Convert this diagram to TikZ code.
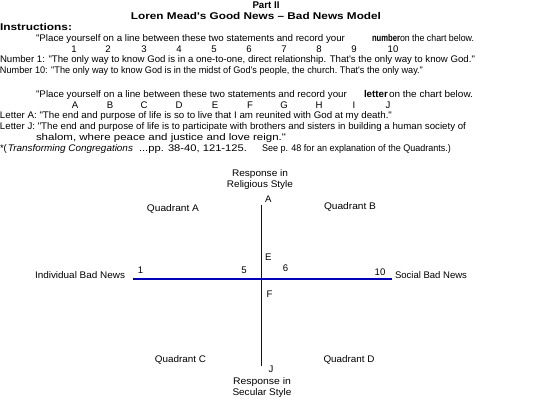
\documentclass[tikz,border=0pt]{standalone}
\usepackage{fontspec}
\newfontfamily\arialf{Liberation Sans}
\definecolor{axisblue}{RGB}{0,0,185}
\newcommand{\fitw}[2]{\resizebox{#1pt}{\height}{#2}}
\begin{document}
\begin{tikzpicture}[x=1pt,y=-1pt,
  every node/.style={inner sep=0pt, outer sep=0pt, font=\arialf\fontsize{9.6}{11}\selectfont},
  tl/.style={anchor=base west},
  tc/.style={anchor=base},
  hb/.style={font=\arialf\bfseries\fontsize{9.8}{11}\selectfont},
  axis/.style={draw=axisblue, line width=1.5pt}]
\useasboundingbox (0,0) rectangle (536,409);
% header
\node[tc, hb] (part) at (266,9) {\fitw{27}{Part II}};
\node[tc, hb] (title) at (256,20) {\fitw{250}{Loren Mead's Good News – Bad News Model}};
\node[tl, hb] (instr) at (0,31) {\fitw{72}{Instructions:}};
% number statement
\node[tl] (q1a) at (36,42) {\fitw{309}{"Place yourself on a line between these two statements and record your}};
\node[tl, hb] (q1b) at (372,42) {\fitw{28}{number}};
\node[tl] (q1c) at (400,42) {\fitw{74}{on the chart below.}};
\foreach \n/\x in {1/74,2/108,3/144,4/179,5/214,6/249,7/284,8/319,9/354,10/393}
  \node[tc] (num\n) at (\x,53) {\n};
\node[tl] (n1) at (0,63) {\fitw{475}{Number 1: "The only way to know God is in a one-to-one, direct relationship. That's the only way to know God."}};
\node[tl] (n10) at (0,74) {\fitw{423}{Number 10: "The only way to know God is in the midst of God's people, the church.\ That's the only way."}};
% letter statement
\node[tl] (q2a) at (36,98) {\fitw{311}{"Place yourself on a line between these two statements and record your}};
\node[tl, hb] (q2b) at (364,98) {\fitw{24}{letter}};
\node[tl] (q2c) at (389,98) {\fitw{84}{on the chart below.}};
\foreach \l/\x in {A/75,B/110,C/144,D/179,E/215,F/250,G/284,H/319,I/354,J/388}
  \node[tc] (let\l) at (\x,109) {\l};
\node[tl] (la) at (0,119) {\fitw{392}{Letter A: "The end and purpose of life is so to live that I am reunited with God at my death."}};
\node[tl] (lj) at (0,130) {\fitw{466}{Letter J: "The end and purpose of life is to participate with brothers and sisters in building a human society of}};
\node[tl] (lj2) at (36,141) {\fitw{250}{shalom, where peace and justice and love reign."}};
\node[tl] (fa) at (0,152) {*(};
\node[tl] (fb) at (8,152) {\fitw{125}{\itshape Transforming Congregations}};
\node[tl] (fc) at (139,152) {\fitw{108}{...pp. 38-40, 121-125.}};
\node[tl] (fd) at (262,152) {\fitw{189}{See p. 48 for an explanation of the Quadrants.)}};
% axes
\coordinate (top) at (261.7,205);
\coordinate (bot) at (261.7,366);
\coordinate (lft) at (133,279);
\coordinate (rgt) at (392,279);
\draw[axis] (top) -- (bot);
\draw[axis] (lft) -- (rgt);
% axis labels
\node[tc] (rel1) at (260,177) {\fitw{56}{Response in}};
\node[tc] (rel2) at (260,188) {\fitw{66}{Religious Style}};
\node[tl] (ptA) at (265,203) {A};
\node[tc] (qa) at (173,212) {\fitw{52}{Quadrant A}};
\node[tc] (qb) at (350,210) {\fitw{52}{Quadrant B}};
\node[tl] (ptE) at (265,260) {E};
\node[tc] (pt5) at (244,273) {5};
\node[tc] (pt6) at (285.5,272) {6};
\node[tc] (pt1) at (140.5,273) {1};
\node[tc] (pt10) at (380,276) {10};
\node[tl] (ind) at (35,279) {\fitw{90}{Individual Bad News}};
\node[tl] (soc) at (395,279) {\fitw{72}{Social Bad News}};
\node[tl] (ptF) at (266.5,298) {F};
\node[tc] (qc) at (180.5,362) {\fitw{51}{Quadrant C}};
\node[tc] (qd) at (349,362) {\fitw{51}{Quadrant D}};
\node[tl] (ptJ) at (268.5,372) {J};
\node[tc] (sec1) at (262,384) {\fitw{58}{Response in}};
\node[tc] (sec2) at (262,395) {\fitw{59}{Secular Style}};
\end{tikzpicture}
\end{document}
